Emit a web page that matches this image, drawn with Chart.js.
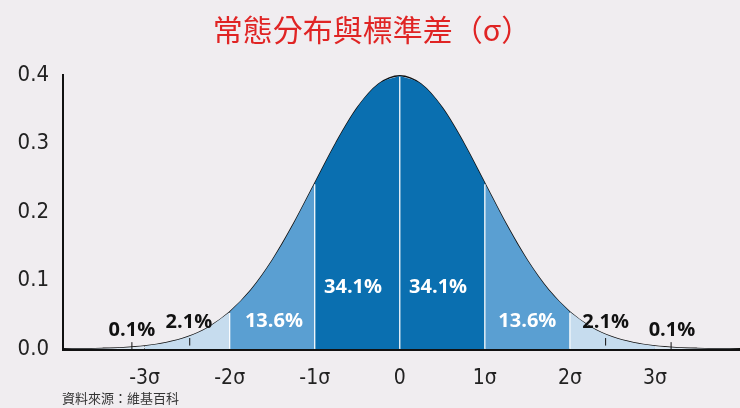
<!DOCTYPE html>
<html><head><meta charset="utf-8">
<script src="https://cdn.jsdelivr.net/npm/chart.js@4"></script>
<style>html,body{margin:0;padding:0;background:#f0edf0;}canvas{display:block;}</style>
</head><body><canvas id="c" width="740" height="408"></canvas>
<script>
const xValues=[-4,-3.75,-3.5,-3.25,-3,-2.75,-2.5,-2.25,-2,-1.75,-1.5,-1.25,-1,-0.75,-0.5,-0.25,0,0.25,0.5,0.75,1,1.25,1.5,1.75,2,2.25,2.5,2.75,3,3.25,3.5,3.75,4];
const yValues=[0.0001,0.0004,0.0009,0.002,0.0044,0.0091,0.0175,0.0317,0.054,0.0863,0.1295,0.1826,0.242,0.3011,0.3521,0.3867,0.3989,0.3867,0.3521,0.3011,0.242,0.1826,0.1295,0.0863,0.054,0.0317,0.0175,0.0091,0.0044,0.002,0.0009,0.0004,0.0001];
const segBounds=[[-4,-3],[-3,-2],[-2,-1],[-1,0],[0,1],[1,2],[2,3],[3,4]];
const segColors=['#dce7f1','#c6dcee','#5a9fd2','#0a6fb0','#0a6fb0','#5a9fd2','#c6dcee','#dce7f1'];
const tickValues=[-3,-2,-1,0,1,2,3];
const tickLabels=['-3σ','-2σ','-1σ','0','1σ','2σ','3σ'];
const dividers=[-2,-1,0,1,2];
const pctLabels=[{x:-0.55,y:0.058,t:'34.1%',c:'#fff'},{x:0.45,y:0.058,t:'34.1%',c:'#fff'},{x:-1.48,y:0.008,t:'13.6%',c:'#fff'},{x:1.5,y:0.008,t:'13.6%',c:'#fff'},{x:-2.48,y:0.021,t:'2.1%',c:'#111'},{x:2.42,y:0.021,t:'2.1%',c:'#111'},{x:-3.15,y:0.01,t:'0.1%',c:'#111'},{x:3.2,y:0.01,t:'0.1%',c:'#111'}];
const leaders=[[-3.15,0,0.01],[-2.47,0.005,0.016],[2.42,0.005,0.016],[3.19,0,0.01]];

const pts=xValues.map((x,i)=>({x,y:yValues[i]}));
const datasets=segBounds.map((b,i)=>({data:pts.filter(p=>p.x>=b[0]&&p.x<=b[1]),fill:'origin',backgroundColor:segColors[i],borderWidth:0,pointRadius:0,cubicInterpolationMode:'monotone'}));
datasets.push({data:pts,fill:false,borderColor:'#111',borderWidth:1.5,pointRadius:0,cubicInterpolationMode:'monotone'});

const deco={id:'deco',
beforeDraw(ch){const c=ch.ctx;c.save();c.fillStyle='#f0edf0';c.fillRect(0,0,ch.width,ch.height);c.restore();},
afterDatasetsDraw(ch){const c=ch.ctx,xs=ch.scales.x,ys=ch.scales.y;c.save();
 c.strokeStyle='#fff';c.lineWidth=1.2;
 dividers.forEach(d=>{const i=xValues.indexOf(d);c.beginPath();c.moveTo(xs.getPixelForValue(d),ys.getPixelForValue(0));c.lineTo(xs.getPixelForValue(d),ys.getPixelForValue(yValues[i])+1);c.stroke();});
 c.strokeStyle='#111';c.lineWidth=1;
 leaders.forEach(l=>{c.beginPath();c.moveTo(xs.getPixelForValue(l[0]),ys.getPixelForValue(l[1]));c.lineTo(xs.getPixelForValue(l[0]),ys.getPixelForValue(l[2]));c.stroke();});
 c.textAlign='center';c.textBaseline='middle';c.font='bold 20px "Open Sans", sans-serif';
 pctLabels.forEach(p=>{c.fillStyle=p.c;c.fillText(p.t,xs.getPixelForValue(p.x),ys.getPixelForValue(p.y)-(p.c==='#fff'?10:0)-12);});
 c.fillStyle='#e02424';c.font='30px "Noto Sans CJK TC", sans-serif';c.fillText('常態分布與標準差（σ）',372,30);
 c.fillStyle='#333';c.textAlign='left';c.font='13px "Noto Sans CJK TC", sans-serif';c.fillText('資料來源：維基百科',62,398);
 c.restore();}};

new Chart(document.getElementById('c'),{type:'line',data:{datasets},plugins:[deco],
options:{responsive:false,animation:false,devicePixelRatio:1,
layout:{padding:{top:75,right:0,left:0,bottom:0}},
plugins:{legend:{display:false},tooltip:{enabled:false}},
scales:{
 x:{type:'linear',min:-3.96,max:4,afterBuildTicks(s){s.ticks=tickValues.map(v=>({value:v}));},afterFit(s){s.height=59;},
  grid:{display:false,drawTicks:false},border:{display:true,color:'#111',width:3},
  ticks:{padding:17,color:'#222',font:{size:21,family:'"Liberation Sans Narrow", "DejaVu Sans Condensed", sans-serif'},callback:(v)=>tickLabels[tickValues.indexOf(v)]}},
 y:{min:0,max:0.4,afterFit(s){s.width=63;},grid:{display:false,drawTicks:false},border:{display:true,color:'#111',width:2},
  ticks:{stepSize:0.1,padding:14,color:'#222',font:{size:22,family:'"Liberation Sans Narrow", "DejaVu Sans Condensed", sans-serif'},callback:v=>v.toFixed(1)}}
}}});
</script></body></html>
